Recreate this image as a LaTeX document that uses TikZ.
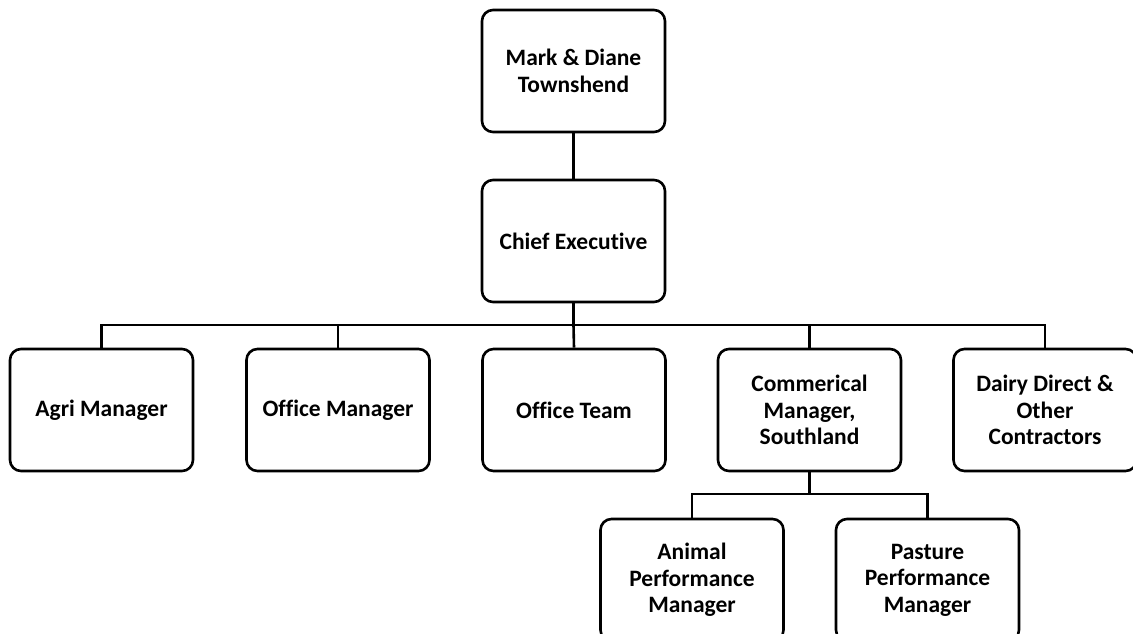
\documentclass[tikz,border=0pt]{standalone}
\usepackage{fontspec}
\setmainfont[Ligatures=NoCommon]{Carlito}
\begin{document}
\begin{tikzpicture}[x=1pt,y=-1pt,
  orgbox/.style={draw=black, line width=2.6pt, rounded corners=11pt, fill=white,
    minimum width=183pt, minimum height=122pt, align=center, inner sep=0pt,
    font=\fontsize{23.5}{26.5}\selectfont\bfseries},
  link/.style={draw=black, line width=2.6pt}]
\useasboundingbox (0,0) rectangle (1133,634);
\node[orgbox] (mark) at (573.5,71) {Mark \& Diane\\Townshend};
\node[orgbox] (chief) at (573.5,241) {Chief Executive};
\node[orgbox] (agri) at (101.5,410) {Agri Manager};
\node[orgbox] (offm) at (338,410) {Office Manager};
\node[orgbox] (offt) at (574,410) {Office Team};
\node[orgbox] (comm) at (809.5,410) {Commerical\\Manager,\\Southland};
\node[orgbox] (dairy) at (1045,410) {Dairy Direct \&\\Other\\Contractors};
\node[orgbox] (animal) at (692,580) {Animal\\Performance\\Manager};
\node[orgbox] (pasture) at (927.5,580) {Pasture\\Performance\\Manager};
\coordinate (bar) at (573.5,325);
\coordinate (subbar) at (809.5,494);
\draw[link] (mark.south) -- (chief.north);
\draw[link] (chief.south) -- (bar);
\draw[link] (bar) -| (agri.north);
\draw[link] (bar) -| (offm.north);
\draw[link] (bar) -- (offt.north);
\draw[link] (bar) -| (comm.north);
\draw[link] (bar) -| (dairy.north);
\draw[link] (comm.south) -- (subbar);
\draw[link] (subbar) -| (animal.north);
\draw[link] (subbar) -| (pasture.north);
\end{tikzpicture}
\end{document}
